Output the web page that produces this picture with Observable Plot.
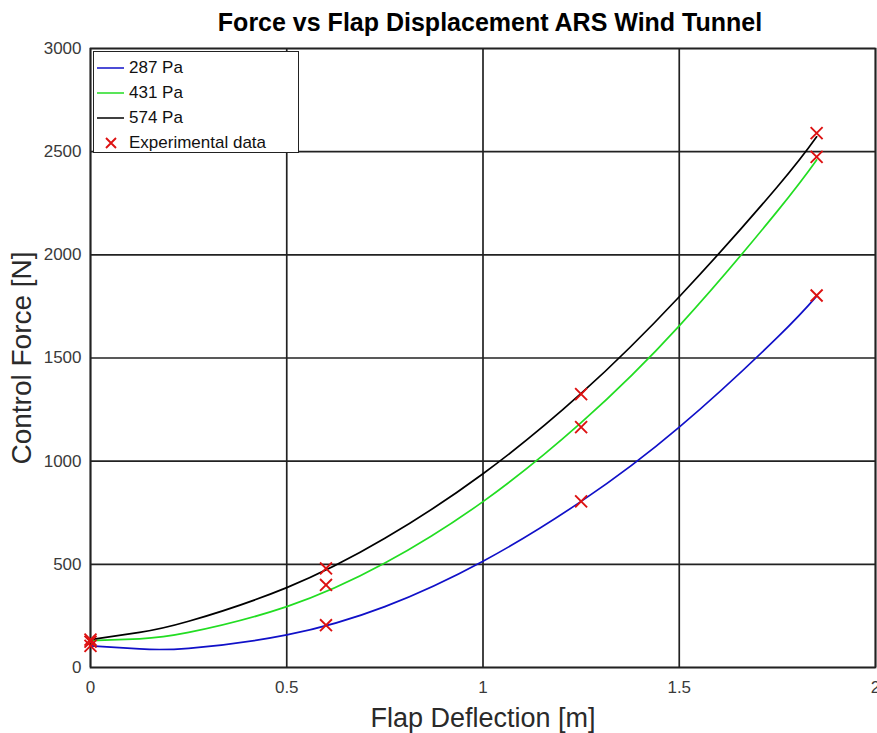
<!DOCTYPE html>
<html>
<head>
<meta charset="utf-8">
<script src="https://cdn.jsdelivr.net/npm/d3@7"></script>
<script src="https://cdn.jsdelivr.net/npm/@observablehq/plot@0.6"></script>
<style>
  html, body { margin: 0; padding: 0; background: #fff; }
  #wrap { position: relative; width: 877px; height: 733px; font-family: "Liberation Sans", Arial, Helvetica, sans-serif; }
  #legend { position: absolute; left: 93px; top: 51px; width: 206px; height: 102px; background: #fff; border: 1.2px solid #222; box-sizing: border-box; font-size: 17px; color: #111; }
  .row { position: absolute; left: 0; height: 20px; display: flex; align-items: center; }
  .row svg { margin-left: 3px; margin-right: 5px; }
</style>
</head>
<body>
<div id="wrap"></div>
<script>
// ---- data ----
const titleText = "Force vs Flap Displacement ARS Wind Tunnel";
const xLabel = "Flap Deflection [m]";
const yLabel = "Control Force [N]";
const xTicks = [0, 0.5, 1, 1.5, 2];
const yTicks = [0, 500, 1000, 1500, 2000, 2500, 3000];

const seriesNames = ["287 Pa", "431 Pa", "574 Pa"];
const seriesColors = ["#1010c8", "#22dd22", "#000000"];

// fitted curves (read at these x positions)
const fitX = [0, 0.125, 0.25, 0.5, 0.75, 1, 1.25, 1.5, 1.75, 1.85];
const fit287 = [105, 90, 93, 158, 295, 515, 805, 1165, 1600, 1800];
const fit431 = [130, 139, 170, 295, 506, 804, 1187, 1656, 2212, 2460];
const fit574 = [135, 170, 224, 387, 626, 939, 1328, 1797, 2330, 2572];

// experimental points
const expX = [0, 0.6, 1.25, 1.85];
const exp287 = [105, 205, 805, 1803];
const exp431 = [125, 400, 1165, 2475];
const exp574 = [135, 480, 1325, 2590];

// ---- build tables ----
const fits = [fit287, fit431, fit574];
const curveRows = [];
fits.forEach((arr, s) => arr.forEach((v, i) => curveRows.push({x: fitX[i], y: v, s: seriesNames[s]})));
const expRows = [];
[exp287, exp431, exp574].forEach(arr => arr.forEach((v, i) => expRows.push({x: expX[i], y: v})));

const W = 877, H = 733;
const chart = Plot.plot({
  width: W,
  height: H,
  marginTop: 48,
  marginLeft: 90,
  marginRight: 2,
  marginBottom: 66,
  style: {fontFamily: "'Liberation Sans', Arial, Helvetica, sans-serif", fontSize: "17px", color: "#3a3a3a", background: "#fff"},
  x: {domain: [0, 2], ticks: xTicks, label: null},
  y: {domain: [0, 3000], ticks: yTicks, label: null},
  color: {domain: seriesNames, range: seriesColors},
  marks: [
    Plot.gridX(xTicks, {stroke: "#222", strokeOpacity: 1, strokeWidth: 1.7}),
    Plot.gridY(yTicks, {stroke: "#222", strokeOpacity: 1, strokeWidth: 1.7}),
    Plot.frame({stroke: "#222", strokeWidth: 1.7}),
    Plot.axisX({ticks: xTicks, tickSize: 0, tickPadding: 13, fontSize: 17, tickFormat: d => String(d), label: null}),
    Plot.axisY({ticks: yTicks, tickSize: 0, tickPadding: 9, fontSize: 17, tickFormat: d => String(d), label: null}),
    Plot.line(curveRows, {x: "x", y: "y", z: "s", stroke: "s", strokeWidth: 1.7, curve: "natural"}),
    Plot.dot(expRows, {x: "x", y: "y", symbol: "times", r: 5.5, stroke: "#dd1111", strokeWidth: 1.9}),
    Plot.text([titleText], {frameAnchor: "top", dx: 7, dy: -26, fontSize: 25, fontWeight: "bold", fill: "#000", lineAnchor: "middle"}),
    Plot.text([xLabel], {frameAnchor: "bottom", dy: 51, fontSize: 27, fill: "#2a2a2a", lineAnchor: "middle"}),
    Plot.text([yLabel], {frameAnchor: "left", textAnchor: "middle", dx: -68, rotate: -90, fontSize: 28, fill: "#2a2a2a", lineAnchor: "middle"})
  ]
});
const wrap = document.getElementById("wrap");
wrap.appendChild(chart);

// ---- legend (HTML overlay) ----
const legend = document.createElement("div");
legend.id = "legend";
const rowTops = [6, 31, 56, 81];
seriesNames.forEach((name, i) => {
  const r = document.createElement("div");
  r.className = "row";
  r.style.top = rowTops[i] + "px";
  r.innerHTML = `<svg width="27" height="10"><line x1="0" y1="5" x2="27" y2="5" stroke="${seriesColors[i]}" stroke-width="1.5"/></svg><span>${name}</span>`;
  legend.appendChild(r);
});
const r4 = document.createElement("div");
r4.className = "row";
r4.style.top = rowTops[3] + "px";
r4.innerHTML = `<svg width="27" height="14"><path d="M9,2 L19,12 M19,2 L9,12" stroke="#dd1111" stroke-width="1.9"/></svg><span>Experimental data</span>`;
legend.appendChild(r4);
wrap.appendChild(legend);
</script>
</body>
</html>
